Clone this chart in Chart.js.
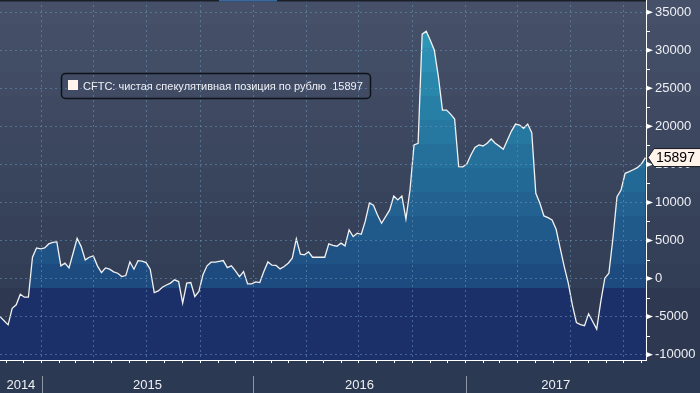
<!DOCTYPE html>
<html><head><meta charset="utf-8">
<script src="https://cdn.jsdelivr.net/npm/chart.js@4.4.1/dist/chart.umd.min.js"></script>
<style>html,body{margin:0;padding:0;background:#2c3952;overflow:hidden}canvas{display:block}</style>
</head><body>
<canvas id="c" width="700" height="393"></canvas>
<script>
const seriesName = 'CFTC: чистая спекулятивная позиция по рублю';

const weekDates = [
'2014-10-21','2014-10-28','2014-11-04','2014-11-11','2014-11-18','2014-11-25','2014-12-02','2014-12-09','2014-12-16','2014-12-23','2014-12-30',
'2015-01-06','2015-01-13','2015-01-20','2015-01-27','2015-02-03','2015-02-10','2015-02-17','2015-02-24','2015-03-03','2015-03-10','2015-03-17','2015-03-24','2015-03-31',
'2015-04-07','2015-04-14','2015-04-21','2015-04-28','2015-05-05','2015-05-12','2015-05-19','2015-05-26','2015-06-02','2015-06-09','2015-06-16','2015-06-23','2015-06-30',
'2015-07-07','2015-07-14','2015-07-21','2015-07-28','2015-08-04','2015-08-11','2015-08-18','2015-08-25','2015-09-01','2015-09-08','2015-09-15','2015-09-22','2015-09-29',
'2015-10-06','2015-10-13','2015-10-20','2015-10-27','2015-11-03','2015-11-10','2015-11-17','2015-11-24','2015-12-01','2015-12-08','2015-12-15','2015-12-22','2015-12-29',
'2016-01-05','2016-01-12','2016-01-19','2016-01-26','2016-02-02','2016-02-09','2016-02-16','2016-02-23','2016-03-01','2016-03-08','2016-03-15','2016-03-22','2016-03-29',
'2016-04-05','2016-04-12','2016-04-19','2016-04-26','2016-05-03','2016-05-10','2016-05-17','2016-05-24','2016-05-31','2016-06-07','2016-06-14','2016-06-21','2016-06-28',
'2016-07-05','2016-07-12','2016-07-19','2016-07-26','2016-08-02','2016-08-09','2016-08-16','2016-08-23','2016-08-30','2016-09-06','2016-09-13','2016-09-20','2016-09-27',
'2016-10-04','2016-10-11','2016-10-18','2016-10-25','2016-11-01','2016-11-08','2016-11-15','2016-11-22','2016-11-29','2016-12-06','2016-12-13','2016-12-20','2016-12-27',
'2017-01-03','2017-01-10','2017-01-17','2017-01-24','2017-01-31','2017-02-07','2017-02-14','2017-02-21','2017-02-28','2017-03-07','2017-03-14','2017-03-21','2017-03-28',
'2017-04-04','2017-04-11','2017-04-18','2017-04-25','2017-05-02','2017-05-09','2017-05-16','2017-05-23','2017-05-30','2017-06-06','2017-06-13','2017-06-20','2017-06-27',
'2017-07-04','2017-07-11','2017-07-18','2017-07-25','2017-08-01','2017-08-08','2017-08-15','2017-08-22','2017-08-29','2017-09-05','2017-09-12','2017-09-19','2017-09-26',
'2017-10-03','2017-10-10','2017-10-17','2017-10-24','2017-10-31','2017-11-07'
];

const netPosition = [
-5000,-5550,-6080,-3900,-3450,-2050,-2450,-2450,2800,4030,3900,
4030,4550,4750,4810,1670,2020,1400,3330,5300,4200,2450,2800,2980,
1670,790,1400,1230,880,700,260,400,2190,1230,2360,2280,2100,
1230,-1840,-1620,-1130,-850,-600,-170,-390,-3230,-600,-520,-2360,-1700,
490,1670,2150,2150,2250,2360,1440,1670,1010,260,920,-700,-700,
-430,-520,920,2190,1760,1720,1270,1580,2020,2680,5210,3200,3110,
3500,2800,2800,2800,2800,4550,4350,4250,4650,4290,6390,5510,5960,
5820,7570,9930,9630,8360,7270,8140,9020,10850,10330,10850,7830,11640,
17550,17770,32110,32500,31320,30010,26510,22140,22140,21610,20960,14700,14680,
15050,16230,17240,17550,17420,17770,18330,17770,17400,16980,18200,19380,20300,
20170,19740,20300,19160,11200,9900,8230,8010,7700,6480,4000,1580,-600,
-3450,-5770,-6050,-6200,-4630,-5640,-6640,-3020,50,710,5300,10760,11640,
13830,14040,14300,14570,15050,15897
];

const yTickValues = [-10000,-5000,0,5000,10000,15000,20000,25000,30000,35000];
const yMinorTicks = [-7500,-2500,2500,7500,12500,17500,22500,27500,32500];
const yearLabels = ['2014','2015','2016','2017'];
const xRange = ['2014-10-21','2017-11-08'];
const yRange = [-10700, 36600];

function mix(a, b, t) {
  return 'rgb(' + a.map((v, i) => Math.round(v + (b[i] - v) * t)).join(',') + ')';
}
const STEP = 24, NB = 12;
const FILL_TOP = [46,157,189], FILL_BOT = [29,75,127], FILL_BASE = 'rgb(27,47,105)';
const BG_TOP = [70,80,105], BG_BOT = [50,61,86], BG_BASE = 'rgb(46,57,81)';

function fillGradient(chart) {
  const a = chart.chartArea;
  if (!a) return FILL_BASE;
  const H = a.bottom - a.top;
  const g = chart.ctx.createLinearGradient(0, a.top, 0, a.bottom);
  for (let k = 0; k < NB; k++) {
    const c = mix(FILL_TOP, FILL_BOT, k / (NB - 1));
    g.addColorStop(k * STEP / H, c);
    g.addColorStop(Math.min(1, ((k + 1) * STEP - 0.01) / H), c);
  }
  g.addColorStop(NB * STEP / H, FILL_BASE);
  g.addColorStop(1, FILL_BASE);
  return g;
}

const gridColor = 'rgba(105,150,185,0.55)';

const decor = {
  id: 'decor',
  beforeDraw(chart) {
    const {ctx, chartArea: a, width, height} = chart;
    ctx.save();
    for (let k = 0; k < NB; k++) {
      ctx.fillStyle = mix(BG_TOP, BG_BOT, k / (NB - 1));
      ctx.fillRect(0, a.top + k * STEP, width, STEP);
    }
    ctx.fillStyle = BG_BASE;
    ctx.fillRect(0, a.top + NB * STEP, width, a.bottom - (a.top + NB * STEP));
    ctx.fillStyle = '#2c3952';
    ctx.fillRect(0, a.bottom, width, height - a.bottom);
    ctx.restore();
  },
  afterDraw(chart) {
    const {ctx, chartArea: a, width, height} = chart;
    const xs = chart.scales.x, ys = chart.scales.y;
    ctx.save();
    // top strip
    ctx.fillStyle = '#1b1f27';
    ctx.fillRect(0, 0, a.right, 1.5);
    ctx.fillStyle = '#3b6aa0';
    ctx.fillRect(219, 0, 58, 1.5);
    // y axis markers
    ctx.fillStyle = '#ffffff';
    yTickValues.forEach(v => {
      const y = ys.getPixelForValue(v);
      ctx.beginPath();
      ctx.moveTo(a.right, y - 2.8);
      ctx.lineTo(a.right + 7, y);
      ctx.lineTo(a.right, y + 2.8);
      ctx.closePath();
      ctx.fill();
    });
    ctx.strokeStyle = '#ffffff';
    ctx.lineWidth = 1;
    yMinorTicks.forEach(v => {
      const y = Math.round(ys.getPixelForValue(v)) + 0.5;
      ctx.beginPath();
      ctx.moveTo(a.right, y);
      ctx.lineTo(a.right + 4, y);
      ctx.stroke();
    });
    // year labels and separators
    ctx.font = '13px "Liberation Sans", Arial, sans-serif';
    ctx.textAlign = 'center';
    ctx.textBaseline = 'middle';
    yearLabels.forEach(yr => {
      const y0 = Date.UTC(+yr, 0, 1), y1 = Date.UTC(+yr + 1, 0, 1);
      const s = Math.max(xs.getPixelForValue(y0), a.left);
      const e = Math.min(xs.getPixelForValue(y1), a.right);
      ctx.fillStyle = '#eef0f4';
      ctx.fillText(yr, (s + e) / 2, 385);
      const sx = xs.getPixelForValue(y0);
      if (sx > a.left + 2) {
        ctx.strokeStyle = '#8e97a8';
        ctx.beginPath();
        ctx.moveTo(Math.round(sx) + 0.5, 376);
        ctx.lineTo(Math.round(sx) + 0.5, height);
        ctx.stroke();
      }
    });
    // last value tag
    const last = netPosition[netPosition.length - 1];
    const ly = ys.getPixelForValue(last);
    ctx.beginPath();
    ctx.moveTo(a.right + 2, ly);
    ctx.lineTo(a.right + 8, ly - 9);
    ctx.lineTo(width + 2, ly - 9);
    ctx.lineTo(width + 2, ly + 9);
    ctx.lineTo(a.right + 8, ly + 9);
    ctx.closePath();
    ctx.fillStyle = '#fff3ea';
    ctx.fill();
    ctx.strokeStyle = '#15181d';
    ctx.lineWidth = 1;
    ctx.stroke();
    ctx.fillStyle = '#000000';
    ctx.textAlign = 'left';
    ctx.font = '14px "Liberation Sans", Arial, sans-serif';
    ctx.fillText(String(last), a.right + 10, ly + 0.5);
    // legend
    ctx.beginPath();
    ctx.roundRect(61.5, 73.5, 309, 25, 4);
    ctx.strokeStyle = '#0f1217';
    ctx.lineWidth = 1.5;
    ctx.stroke();
    ctx.fillStyle = '#fff4ee';
    ctx.fillRect(68, 80, 10, 10);
    ctx.fillStyle = '#eef0f4';
    ctx.font = '11px "Liberation Sans", Arial, sans-serif';
    ctx.textBaseline = 'alphabetic';
    ctx.fillText(seriesName + '  ' + last, 83, 90);
    ctx.restore();
  }
};

const monthTicks = [];
(function () {
  const s = new Date(Date.parse(xRange[0])), e = Date.parse(xRange[1]);
  let y = s.getUTCFullYear(), m = s.getUTCMonth() + 1;
  for (;;) {
    const t = Date.UTC(y, m, 1);
    if (t > e) break;
    monthTicks.push(t);
    m++; if (m > 11) { m = 0; y++; }
  }
})();

new Chart(document.getElementById('c'), {
  type: 'line',
  data: {
    datasets: [{
      label: seriesName,
      data: weekDates.map((d, i) => ({x: Date.parse(d), y: netPosition[i]})),
      borderColor: '#f2f2f2',
      borderWidth: 1.3,
      pointRadius: 0,
      tension: 0,
      fill: 'start',
      backgroundColor: (c) => fillGradient(c.chart)
    }]
  },
  options: {
    responsive: false,
    devicePixelRatio: 1,
    animation: false,
    layout: {padding: 0},
    plugins: {legend: {display: false}, tooltip: {enabled: false}},
    scales: {
      x: {
        type: 'linear',
        min: Date.parse(xRange[0]),
        max: Date.parse(xRange[1]),
        afterBuildTicks: (s) => { s.ticks = monthTicks.map(v => ({value: v})); },
        afterFit: (s) => { s.height = 33; s.paddingLeft = 0; s.paddingRight = 0; s.paddingTop = 0; s.paddingBottom = 0; },
        ticks: {display: false},
        grid: {
          z: 1,
          color: (c) => (c.tick && new Date(c.tick.value).getUTCMonth() % 3 === 0) ? gridColor : 'rgba(0,0,0,0)',
          tickColor: '#ffffff',
          tickLength: 3,
          drawTicks: true,
          lineWidth: 1
        },
        border: {display: true, color: '#ffffff', width: 1, dash: [2, 3], z: 1}
      },
      y: {
        position: 'right',
        min: yRange[0],
        max: yRange[1],
        afterBuildTicks: (s) => { s.ticks = yTickValues.map(v => ({value: v})); },
        afterFit: (s) => { s.width = 54; s.paddingTop = 0; s.paddingBottom = 0; s.paddingLeft = 0; s.paddingRight = 0; },
        ticks: {
          color: '#eef0f4',
          font: {family: '"Liberation Sans", Arial, sans-serif', size: 13},
          padding: 9,
          callback: (v) => String(v)
        },
        grid: {z: 1, color: gridColor, drawTicks: false, lineWidth: 1},
        border: {display: true, color: '#ffffff', width: 1, dash: [2, 3], z: 1}
      }
    }
  },
  plugins: [decor]
});
</script>
</body></html>
